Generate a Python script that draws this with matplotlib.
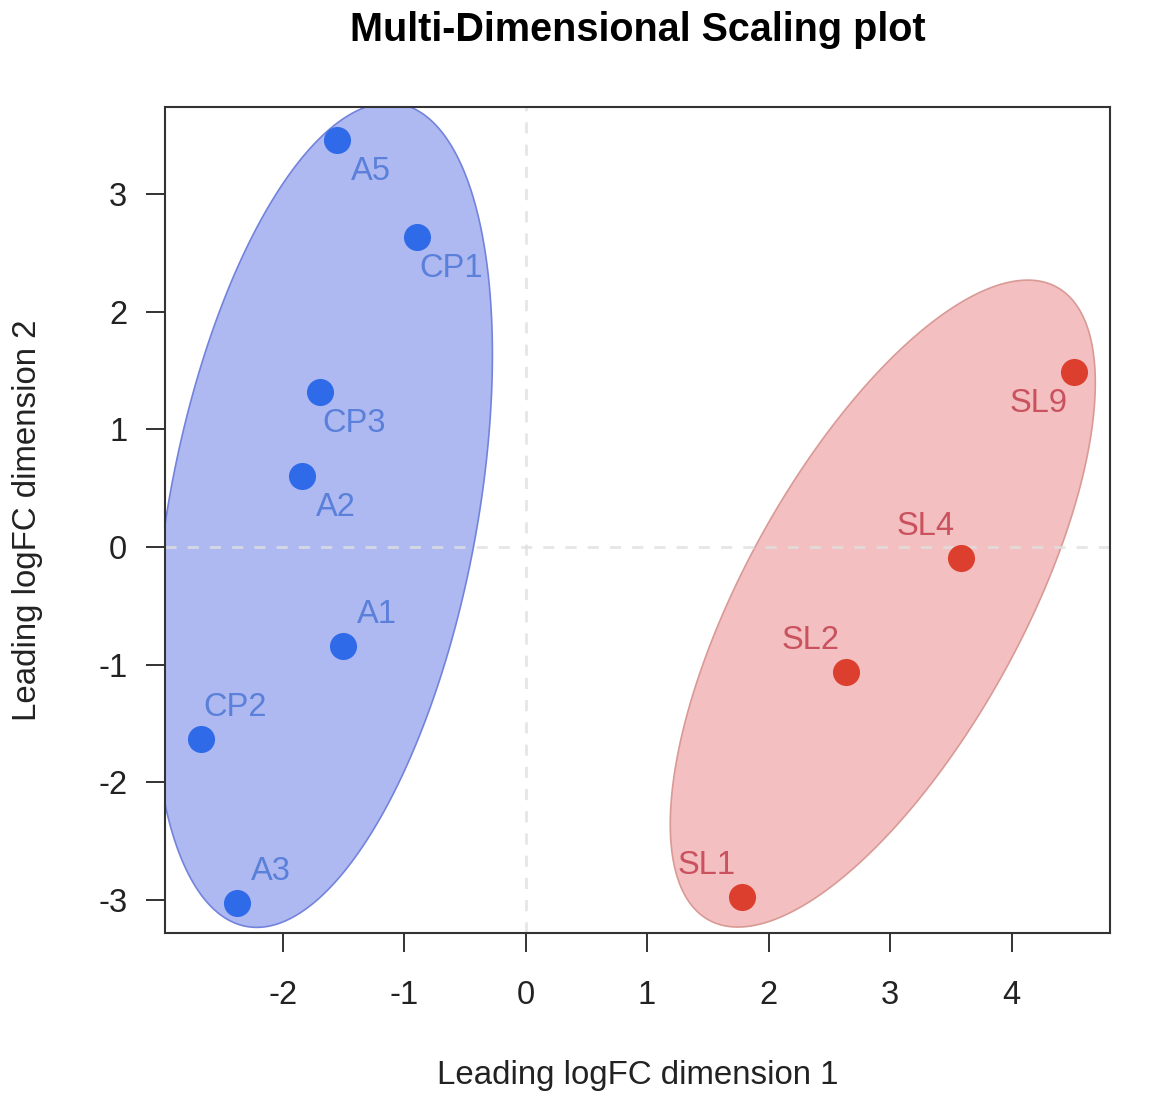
import numpy as np
import matplotlib
matplotlib.use("Agg")
import matplotlib.pyplot as plt

plt.rcParams['font.family'] = ['Liberation Sans', 'DejaVu Sans']
plt.rcParams['axes.unicode_minus'] = False

# --- data ---
blue_labels = ["A5", "CP1", "CP3", "A2", "A1", "CP2", "A3"]
blue_x = [-1.556, -0.897, -1.695, -1.844, -1.506, -2.675, -2.379]
blue_y = [3.458, 2.634, 1.317, 0.603, -0.841, -1.631, -3.025]
blue_label_below = [True, True, True, True, False, False, False]

red_labels = ["SL9", "SL4", "SL2", "SL1"]
red_x = [4.510, 3.580, 2.634, 1.778]
red_y = [1.487, -0.093, -1.062, -2.974]
red_label_below = [True, False, False, False]

# ellipse: center and shape matrix (xx, yy, xy) in data units
blue_center = [-1.67, 0.272]
blue_shape = [1.95, 12.28, 1.904]
red_center = [2.94, -0.48]
red_shape = [3.06, 7.56, 3.28]

xticks = [-2, -1, 0, 1, 2, 3, 4]
yticks = [-3, -2, -1, 0, 1, 2, 3]

BLUE_PT = "#2F6BE8"
BLUE_FILL = "#AEB9F2"
BLUE_EDGE = "#7383DC"
BLUE_TXT = "#5A80DA"
RED_PT = "#DD3F2E"
RED_FILL = "#F3BFC0"
RED_EDGE = "#D99A96"
RED_TXT = "#C9525E"

FS = 23.5

fig = plt.figure(figsize=(11.69, 10.93), dpi=100)
ax = fig.add_axes([0.141, 0.1464, 0.8085, 0.7556])
ax.set_xlim(-2.97, 4.81)
ax.set_ylim(-3.28, 3.74)


def draw_ellipse(center, shape, fc, ec):
    S = np.array([[shape[0], shape[2]], [shape[2], shape[1]]])
    L = np.linalg.cholesky(S)
    t = np.linspace(0, 2 * np.pi, 400)
    pts = L @ np.vstack([np.cos(t), np.sin(t)])
    ax.fill(center[0] + pts[0], center[1] + pts[1], facecolor=fc,
            edgecolor=ec, linewidth=1.2, zorder=1)


draw_ellipse(blue_center, blue_shape, BLUE_FILL, BLUE_EDGE)
draw_ellipse(red_center, red_shape, RED_FILL, RED_EDGE)

ax.axvline(0, color="#E0E0E0", alpha=0.8, linestyle=(0, (4, 4)), linewidth=2, zorder=2)
ax.axhline(0, color="#E0E0E0", alpha=0.8, linestyle=(0, (4, 4)), linewidth=2, zorder=2)

ax.scatter(blue_x, blue_y, s=380, color=BLUE_PT, zorder=3, linewidths=0)
ax.scatter(red_x, red_y, s=380, color=RED_PT, zorder=3, linewidths=0)

for lab, x, y, below in zip(blue_labels, blue_x, blue_y, blue_label_below):
    ax.annotate(lab, (x, y), xytext=(24.5, -22.5 if below else 22.5),
                textcoords="offset points", ha="center", va="center",
                fontsize=FS, color=BLUE_TXT, zorder=4)
for lab, x, y, below in zip(red_labels, red_x, red_y, red_label_below):
    ax.annotate(lab, (x, y), xytext=(-25, -22.5 if below else 22.5),
                textcoords="offset points", ha="center", va="center",
                fontsize=FS, color=RED_TXT, zorder=4)

ax.set_xticks(xticks)
ax.set_yticks(yticks)
ax.tick_params(axis="both", direction="out", length=14, width=1.3,
               labelsize=FS, colors="#222222")
ax.tick_params(axis="x", pad=20)
ax.tick_params(axis="y", pad=13)
for sp in ax.spines.values():
    sp.set_linewidth(1.5)
    sp.set_color("#333333")

ax.set_xlabel("Leading logFC dimension 1", fontsize=FS + 0.3, color="#222222")
ax.set_ylabel("Leading logFC dimension 2", fontsize=FS + 0.3, color="#222222")
ax.xaxis.set_label_coords(0.5, -0.172)
ax.xaxis.label.set_va("center")
ax.yaxis.set_label_coords(-0.145, 0.5)
ax.yaxis.label.set_va("center")

fig.text(0.5457, 1 - 30 / 1093, "Multi-Dimensional Scaling plot", fontsize=28.5,
         fontweight="bold", ha="center", va="center")

fig.savefig("out.png", dpi=100, facecolor="white")
